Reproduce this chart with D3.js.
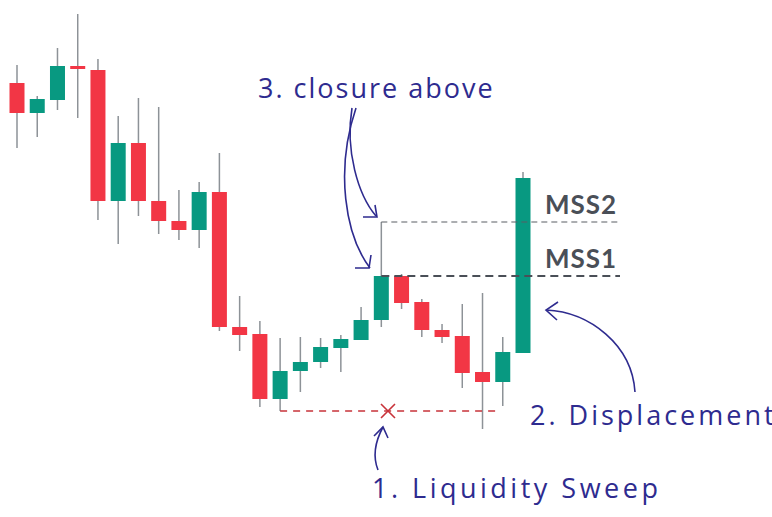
<!DOCTYPE html><html><head><meta charset="utf-8"><script src="https://cdn.jsdelivr.net/npm/d3@7"></script>
<style>body{margin:0;background:#fff}</style></head><body><svg id="c" width="772" height="517"></svg>
<script>
const opens=[437,407,420,454,450,319,377,319,299,290,328,193,186,121,149,158,172,180,200,244,218,190,184,148,138,167];
const closes=[407,421,454,451,319,377,319,299,290,328,193,185,121,149,158,173,181,200,244,217,190,183,147,138,168,342];
const highs=[455,424,472,506,461,404,422,413,330,338,367,224,199,182,183,182,185,213,298,246,221,196,216,227,183,348];
const lows=[372,383,410,402,300,276,304,286,280,272,189,169,113,109,128,152,148,180,193,211,183,177,132,91,114,167];
const levelNames=["MSS2","MSS1"];
const levelValues=[298,244];
const sweepLevel=109;
const annotations=["3. closure above","2. Displacement","1. Liquidity Sweep"];

const svg=d3.select("#c");
const x=d3.scaleLinear().domain([0,25]).range([17,523]);
const y=d3.scaleLinear().domain([0,520]).range([520,0]);
const bw=15, red="#f23645", green="#089981";
const data=opens.map((o,i)=>({i,o,c:closes[i],h:highs[i],l:lows[i]}));
svg.selectAll(".w").data(data).enter().append("line")
 .attr("x1",d=>x(d.i)).attr("x2",d=>x(d.i)).attr("y1",d=>y(d.h)).attr("y2",d=>y(d.l))
 .attr("stroke","#8d9297").attr("stroke-width",1.5);
svg.selectAll(".b").data(data).enter().append("rect")
 .attr("x",d=>x(d.i)-bw/2).attr("width",bw)
 .attr("y",d=>y(Math.max(d.o,d.c))).attr("height",d=>Math.max(2,Math.abs(y(d.o)-y(d.c))))
 .attr("fill",d=>d.c>=d.o?green:red);
const lc=["#5a5e64","#4a4f57"];
levelValues.forEach((v,k)=>{
 svg.append("line").attr("x1",x(18)).attr("x2",620).attr("y1",y(v)).attr("y2",y(v))
  .attr("stroke",lc[k]).attr("stroke-width",k?2:1.2).attr("stroke-dasharray",k?"8,5":"6,4");
 svg.append("text").attr("x",545).attr("y",y(v)-8).text(levelNames[k])
  .attr("font-family","Lato, sans-serif").attr("font-weight","bold").attr("font-size",26)
  .attr("letter-spacing",1).attr("fill","#4a4f57");
});
svg.append("line").attr("x1",x(13)).attr("x2",500).attr("y1",y(sweepLevel)).attr("y2",y(sweepLevel))
 .attr("stroke","#c8333a").attr("stroke-width",1.5).attr("stroke-dasharray","7,6");
const cx=388, cy=y(sweepLevel);
svg.append("path").attr("d",`M${cx-7},${cy-7}L${cx+7},${cy+7}M${cx+7},${cy-7}L${cx-7},${cy+7}`).attr("stroke","#c8333a").attr("stroke-width",1.6);
const blue="#2e2b8f";
[[258,98,2],[530,425,3],[372,498,3.5]].forEach((p,k)=>{
 svg.append("text").attr("x",p[0]).attr("y",p[1]).text(annotations[k])
  .attr("font-family","'Open Sans', sans-serif").attr("font-size",27)
  .attr("letter-spacing",p[2]).attr("fill",blue);
});
const arrow=(d,hd)=>{svg.append("path").attr("d",d).attr("fill","none").attr("stroke",blue).attr("stroke-width",1.6);
 svg.append("path").attr("d",hd).attr("fill","none").attr("stroke",blue).attr("stroke-width",1.6);};
arrow("M352,108 C345,150 358,195 376,216","M363,217 L377,217 L375,205");
arrow("M356,108 C335,170 345,235 370,268","M355,268 L369,268 L371,255");
arrow("M635,392 C632,345 590,312 546,310","M558,302 L546,310 L557,320");
arrow("M378,470 C372,455 376,440 383,427","M374,436 L383,427 L388,438");
</script></body></html>
